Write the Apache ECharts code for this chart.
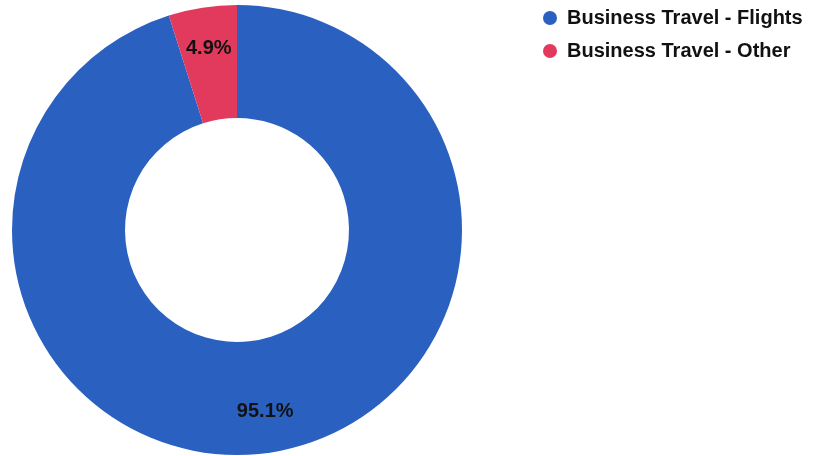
<!DOCTYPE html>
<html><head><meta charset="utf-8">
<script src="https://cdn.jsdelivr.net/npm/echarts@6/dist/echarts.min.js"></script>
<style>html,body{margin:0;padding:0;background:#fff}#c{width:813px;height:456px}</style>
</head><body><div id="c"></div>
<script>
const categories = ["Business Travel - Flights", "Business Travel - Other"];
const values = [95.1, 4.9];
const colors = ["#2a60c0", "#e23a5d"];

const data = categories.map((n, i) => ({ name: n, value: values[i], itemStyle: { color: colors[i] } }));
const chart = echarts.init(document.getElementById('c'));
chart.setOption({
  animation: false,
  legend: {
    orient: 'vertical', left: 538, top: 3, icon: 'circle', itemWidth: 14, itemHeight: 14, itemGap: 13,
    textStyle: { fontFamily: 'Liberation Sans, Arial', fontWeight: 'bold', fontSize: 20, color: '#111', padding: [0, 0, 0, 5] },
    data: categories
  },
  series: [{
    type: 'pie', center: [237, 230], radius: [112, 225], startAngle: 90, clockwise: true,
    label: { show: false }, labelLine: { show: false }, silent: true,
    data: data
  }, {
    type: 'pie', center: [237, 230], radius: [137, 225], startAngle: 90, clockwise: true,
    itemStyle: { color: 'rgba(0,0,0,0)' }, silent: true, legendHoverLink: false,
    label: { show: true, position: 'inside', formatter: '{c}%', fontFamily: 'Liberation Sans, Arial', fontWeight: 'bold', fontSize: 20, color: '#111' },
    labelLine: { show: false },
    data: categories.map((n, i) => ({ name: n + ' ', value: values[i], itemStyle: { color: 'rgba(0,0,0,0)' } }))
  }]
});
</script></body></html>
